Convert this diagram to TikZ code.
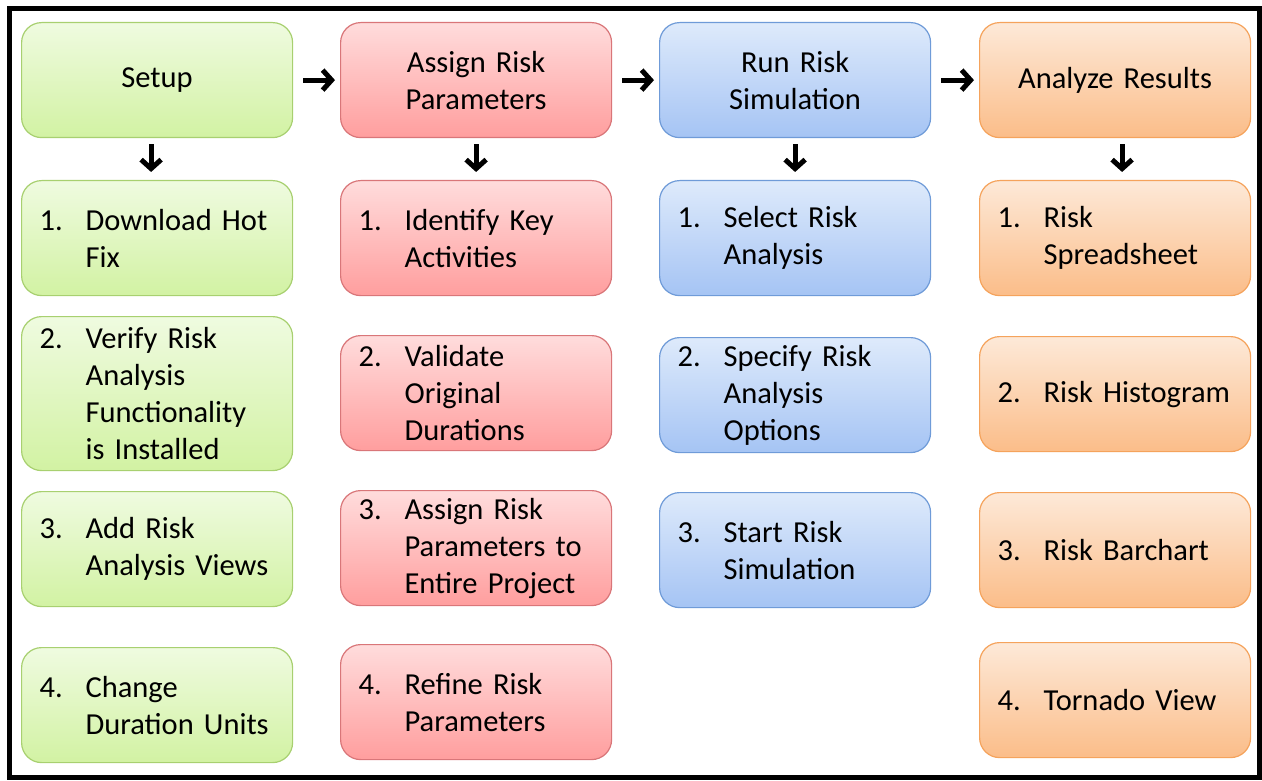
\documentclass[tikz,border=0pt]{standalone}
\usepackage{fontspec}
\setmainfont{Carlito}
\usetikzlibrary{arrows.meta}
\definecolor{gTop}{HTML}{EFFBE0}\definecolor{gBot}{HTML}{D2F2A3}\definecolor{gLine}{HTML}{A8D070}
\definecolor{rTop}{HTML}{FFDCDC}\definecolor{rBot}{HTML}{FF9E9E}\definecolor{rLine}{HTML}{D97679}
\definecolor{bTop}{HTML}{DEEAFB}\definecolor{bBot}{HTML}{A5C4F4}\definecolor{bLine}{HTML}{6F9BD8}
\definecolor{oTop}{HTML}{FDE9D8}\definecolor{oBot}{HTML}{FBBD89}\definecolor{oLine}{HTML}{F5A35C}
\tikzset{
  box/.style={rounded corners=20pt, line width=1.2pt, anchor=north west,
    minimum width=271pt, minimum height=115pt, inner xsep=18pt, inner ysep=0pt,
    text width=235pt, align=left, font=\fontsize{30.5}{37}\selectfont, text=black},
  hbox/.style={box, align=center},
  grn/.style={draw=gLine, top color=gTop, bottom color=gBot},
  red/.style={draw=rLine, top color=rTop, bottom color=rBot},
  blu/.style={draw=bLine, top color=bTop, bottom color=bBot},
  org/.style={draw=oLine, top color=oTop, bottom color=oBot},
  arr/.style={line width=5pt, -{Straight Barb[length=9pt,width=20pt]}},
}
\newcommand{\num}[1]{\makebox[46pt][l]{#1}}
\newcommand{\ind}{\hspace*{46pt}}
\begin{document}
\begin{tikzpicture}[x=1pt,y=-1pt]
\useasboundingbox (0,0) rectangle (1262,781);
\fill[white] (0,0) rectangle (1262,781);
\draw[line width=5pt] (9,9) rectangle (1259.5,777);
% headers
\node[hbox,grn] (setup) at (21,22) {Setup};
\node[hbox,red] (assign) at (340,22) {Assign Risk\\Parameters};
\node[hbox,blu] (run) at (659,22) {Run Risk\\Simulation};
\node[hbox,org] (analyze) at (979,22) {Analyze Results};
% green column
\node[box,grn] (g1) at (21,180) {\num{1.}Download Hot\\\ind Fix};
\node[box,grn,minimum height=154pt] (g2) at (21,316) {\num{2.}Verify Risk\\\ind Analysis\\\ind Functionality\\\ind is Installed};
\node[box,grn] (g3) at (21,491) {\num{3.}Add Risk\\\ind Analysis Views};
\node[box,grn] (g4) at (21,647) {\num{4.}Change\\\ind Duration Units};
% red column
\node[box,red] (r1) at (340,180) {\num{1.}Identify Key\\\ind Activities};
\node[box,red] (r2) at (340,335) {\num{2.}Validate\\\ind Original\\\ind Durations};
\node[box,red] (r3) at (340,490) {\num{3.}Assign Risk\\\ind Parameters to\\\ind Entire Project};
\node[box,red] (r4) at (340,644) {\num{4.}Refine Risk\\\ind Parameters};
% blue column
\node[box,blu] (b1) at (659,180) {\num{1.}Select Risk\\\ind Analysis};
\node[box,blu] (b2) at (659,337) {\num{2.}Specify Risk\\\ind Analysis\\\ind Options};
\node[box,blu] (b3) at (659,492) {\num{3.}Start Risk\\\ind Simulation};
% orange column
\node[box,org] (o1) at (979,180) {\num{1.}Risk\\\ind Spreadsheet};
\node[box,org] (o2) at (979,336) {\num{2.}Risk Histogram};
\node[box,org] (o3) at (979,492) {\num{3.}Risk Barchart};
\node[box,org] (o4) at (979,642) {\num{4.}Tornado View};
% horizontal arrows
\draw[arr] ([xshift=10pt]setup.east) -- ([xshift=-5pt]assign.west);
\draw[arr] ([xshift=10pt]assign.east) -- ([xshift=-5pt]run.west);
\draw[arr] ([xshift=10pt]run.east) -- ([xshift=-5pt]analyze.west);
% down arrows
\draw[arr] ([xshift=-6pt,yshift=-6pt]setup.south) -- ([xshift=-6pt,yshift=8pt]g1.north);
\draw[arr] ([yshift=-6pt]assign.south) -- ([yshift=8pt]r1.north);
\draw[arr] ([yshift=-6pt]run.south) -- ([yshift=8pt]b1.north);
\draw[arr] ([xshift=7pt,yshift=-6pt]analyze.south) -- ([xshift=7pt,yshift=8pt]o1.north);
\end{tikzpicture}
\end{document}
